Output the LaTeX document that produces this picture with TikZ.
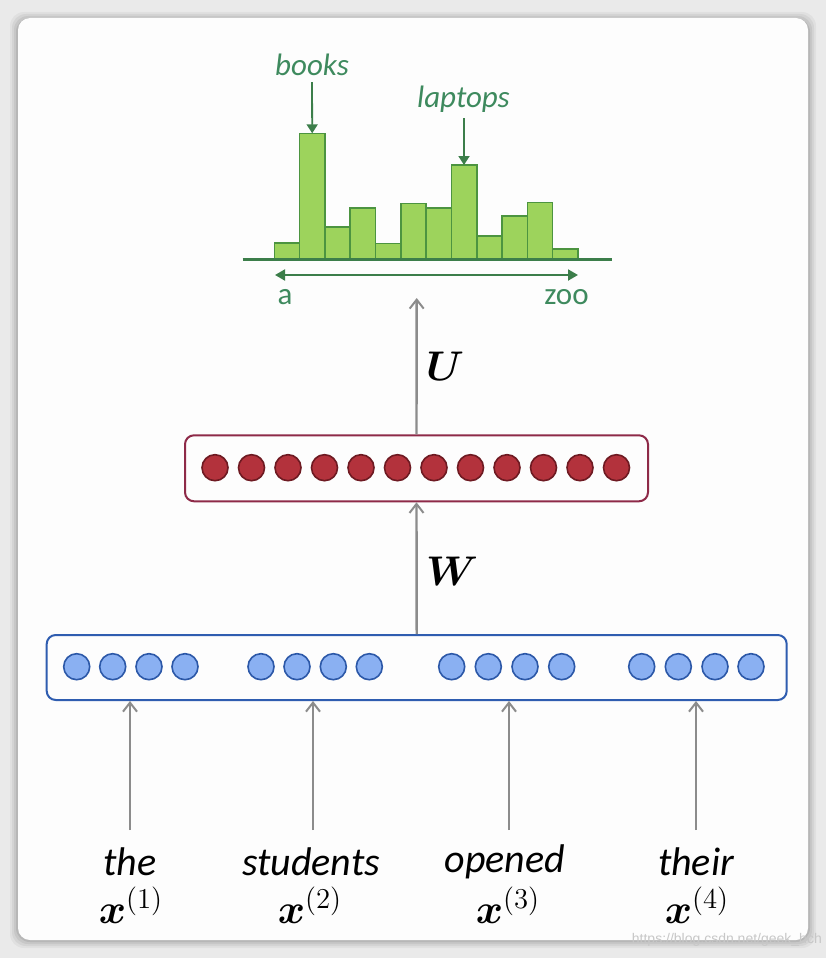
\documentclass[tikz,border=0pt]{standalone}
\usepackage{graphicx}
\usepackage{fontspec}
\usepackage{amsmath,bm}
\newfontfamily\carlito{Carlito}
\newfontfamily\wmfont{Liberation Sans}
\usetikzlibrary{arrows.meta}
\definecolor{bgout}{HTML}{EAEAEA}
\definecolor{cardfill}{HTML}{FDFDFD}
\definecolor{barfill}{HTML}{9DD35C}
\definecolor{barline}{HTML}{4C9440}
\definecolor{gtext}{HTML}{3E8A5E}
\definecolor{axis}{HTML}{3C7E4A}
\definecolor{redfill}{HTML}{B3323C}
\definecolor{redline}{HTML}{6E1A22}
\definecolor{redbox}{HTML}{8E2A48}
\definecolor{bluefill}{HTML}{8AB0F2}
\definecolor{blueline}{HTML}{2C58A8}
\definecolor{bluebox}{HTML}{2F5DB0}
\definecolor{arrowgray}{HTML}{8C8C8C}
\newcommand{\bigmath}[1]{\scalebox{2}{\fontsize{20.74}{24}\selectfont$#1$}}
\tikzset{
  bar/.style={fill=barfill, draw=barline, line width=1.6pt},
  redunit/.style={circle, minimum size=26pt, inner sep=0pt, fill=redfill, draw=redline, line width=1.6pt},
  blueunit/.style={circle, minimum size=26pt, inner sep=0pt, fill=bluefill, draw=blueline, line width=1.6pt},
  grayarrow/.style={draw=arrowgray, line width=2.4pt, -{Straight Barb[length=9pt,width=14pt,line width=2pt]}},
  greenarrow/.style={draw=axis, line width=1.8pt, -{Triangle[length=9pt,width=11pt]}},
  glabel/.style={text=gtext, font=\carlito\itshape\fontsize{31}{34}\selectfont, inner sep=0pt},
  gaxislabel/.style={text=gtext, font=\carlito\fontsize{31}{34}\selectfont, inner sep=0pt},
  word/.style={font=\carlito\itshape\fontsize{40}{44}\selectfont, inner sep=0pt},
  xvar/.style={inner sep=0pt},
  matlabel/.style={inner sep=0pt},
}
\begin{document}
\begin{tikzpicture}[x=1pt,y=-1pt]
\useasboundingbox (0,0) rectangle (826,958);
% background and card
\fill[bgout] (0,0) rectangle (826,958);
\foreach \s/\o in {8/0.04,6/0.05,4/0.06,2/0.08}{
  \fill[black, opacity=\o, rounded corners=14pt] (18-\s,18-\s+2) rectangle (808+\s,940+\s);
}
\fill[cardfill, rounded corners=12pt] (18,18) rectangle (808,940);

% histogram
\draw[bar] (274.3,259) rectangle (299.6,243);
\draw[bar] (299.6,259) rectangle (324.9,133.3);
\draw[bar] (324.9,259) rectangle (350.2,226.7);
\draw[bar] (350.2,259) rectangle (375.5,207.7);
\draw[bar] (375.5,259) rectangle (400.8,243.3);
\draw[bar] (400.8,259) rectangle (426.1,203.3);
\draw[bar] (426.1,259) rectangle (451.4,207.7);
\draw[bar] (451.4,259) rectangle (476.7,165);
\draw[bar] (476.7,259) rectangle (502.0,235.7);
\draw[bar] (502.0,259) rectangle (527.3,216);
\draw[bar] (527.3,259) rectangle (552.6,202.3);
\draw[bar] (552.6,259) rectangle (577.9,249);
\coordinate (b2top) at (312.2,133.3);
\coordinate (b8top) at (464.0,165);
\coordinate (axL) at (242.7,259.3);
\coordinate (axR) at (611.7,259.3);
\draw[axis, line width=2.4pt] (axL) -- (axR);
\coordinate (rngL) at (275,275);
\coordinate (rngR) at (578,275);
\draw[axis, line width=2pt, {Triangle[length=10pt,width=11pt]}-{Triangle[length=10pt,width=11pt]}] (rngL) -- (rngR);
\node[gaxislabel] (lblA) at (285,297) {a};
\node[gaxislabel] (lblZoo) at (566.5,297) {zoo};
\node[glabel] (books) at (312,65) {books};
\node[glabel] (laptops) at (463.5,99) {laptops};
\draw[greenarrow, shorten <=6pt] (books.south) -- (b2top);
\draw[greenarrow, shorten <=6pt] (laptops.south -| b8top) -- (b8top);

% hidden layer
\node[draw=redbox, line width=2pt, rounded corners=9pt, minimum width=463pt, minimum height=66pt, inner sep=0pt] (hid) at (416.5,468.3) {};
\foreach \i/\x in {1/215,2/251.5,3/288,4/324.5,5/361,6/397.5,7/434,8/470.5,9/507,10/543.5,11/580,12/616.5}{
  \node[redunit] (h\i) at (\x,467.7) {};
}

% input layer
\node[draw=bluebox, line width=2pt, rounded corners=9pt, minimum width=740pt, minimum height=65pt, inner sep=0pt] (inp) at (416.7,667.5) {};
\foreach \i/\x in {1/76.7,2/112.7,3/149,4/185,5/261,6/297,7/333.3,8/369.3,9/451.7,10/488.3,11/525,12/561.7,13/641.7,14/678.3,15/715,16/751}{
  \node[blueunit] (e\i) at (\x,666.7) {};
}

% arrows W and U
\coordinate (outIn) at (416.7,298);
\draw[grayarrow] (inp.north) -- (hid.south);
\draw[grayarrow] (hid.north) -- (outIn);
\node[matlabel, anchor=west] (lblW) at (426,571) {\bigmath{\bm{W}}};
\node[matlabel, anchor=west] (lblU) at (426,366) {\bigmath{\bm{U}}};

% words
\node[word] (w1) at (130,862) {the};
\node[word] (w2) at (311,862) {students};
\node[word] (w3) at (505,862) {opened};
\node[word] (w4) at (696,862) {their};
\node[xvar] (x1) at (131,905) {\bigmath{\bm{x}^{(1)}}};
\node[xvar] (x2) at (310,905) {\bigmath{\bm{x}^{(2)}}};
\node[xvar] (x3) at (508,905) {\bigmath{\bm{x}^{(3)}}};
\node[xvar] (x4) at (697,905) {\bigmath{\bm{x}^{(4)}}};
\foreach \i/\x in {1/130,2/313,3/509,4/696}{
  \coordinate (s\i) at (\x,830);
  \draw[grayarrow] (s\i) -- (inp.south -| s\i);
}

% watermark
\node[anchor=east, text=white!78!black, font=\wmfont\fontsize{14}{16}\selectfont, inner sep=0pt] (wm) at (822,940) {https://blog.csdn.net/geek\_hch};
\end{tikzpicture}
\end{document}
